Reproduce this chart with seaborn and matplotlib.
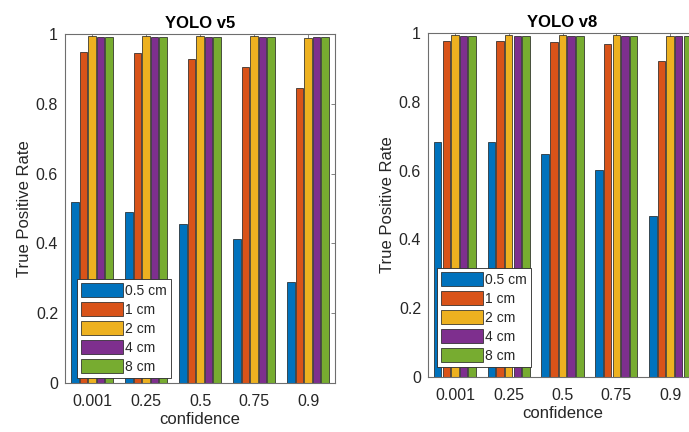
import numpy as np
import pandas as pd
import matplotlib
matplotlib.use("Agg")
import matplotlib.pyplot as plt
from matplotlib.ticker import FixedLocator, FixedFormatter
import seaborn as sns

# confidence thresholds and target sizes
confidence = ["0.001", "0.25", "0.5", "0.75", "0.9"]
sizes = ["0.5 cm", "1 cm", "2 cm", "4 cm", "8 cm"]

# true positive rate per size, one value per confidence threshold
v5_05cm = [0.519, 0.491, 0.456, 0.412, 0.290]
v5_1cm = [0.949, 0.945, 0.928, 0.906, 0.844]
v5_2cm = [0.995, 0.995, 0.995, 0.993, 0.988]
v5_4cm = [0.990, 0.990, 0.990, 0.990, 0.990]
v5_8cm = [0.990, 0.990, 0.990, 0.990, 0.990]

v8_05cm = [0.684, 0.684, 0.647, 0.602, 0.468]
v8_1cm = [0.978, 0.978, 0.975, 0.969, 0.918]
v8_2cm = [0.993, 0.993, 0.993, 0.993, 0.991]
v8_4cm = [0.990, 0.990, 0.990, 0.990, 0.990]
v8_8cm = [0.990, 0.990, 0.990, 0.990, 0.990]

colors = ["#0072BD", "#D95319", "#EDB120", "#7E2F8E", "#77AC30"]
text_color = "#262626"
axis_color = "#6e6e6e"


def long_table(series):
    rows = []
    for size, vals in zip(sizes, series):
        for c, v in zip(confidence, vals):
            rows.append({"confidence": c, "size": size, "tpr": v})
    return pd.DataFrame(rows)


df_v5 = long_table([v5_05cm, v5_1cm, v5_2cm, v5_4cm, v5_8cm])
df_v8 = long_table([v8_05cm, v8_1cm, v8_2cm, v8_4cm, v8_8cm])

sns.set_theme(style="white")
plt.rcParams["font.family"] = ["Liberation Sans", "DejaVu Sans"]
plt.rcParams["text.color"] = text_color

W, H = 689, 432
fig = plt.figure(figsize=(W / 100, H / 100), dpi=100)
fig.patch.set_facecolor("white")


def px_axes(left, top, right, bottom):
    return fig.add_axes([left / W, 1 - bottom / H, (right - left) / W, (bottom - top) / H])


def draw(ax, df, title, legend_box):
    sns.barplot(data=df, x="confidence", y="tpr", hue="size",
                order=confidence, hue_order=sizes, palette=colors,
                saturation=1, errorbar=None, width=0.8, gap=0.12,
                edgecolor="#1a1a1a", linewidth=0.5, ax=ax)
    ax.set_xlim(-0.5, 4.5)
    ax.set_ylim(0, 1)
    ax.yaxis.set_major_locator(FixedLocator([0, 0.2, 0.4, 0.6, 0.8, 1.0]))
    ax.yaxis.set_major_formatter(FixedFormatter(["0", "0.2", "0.4", "0.6", "0.8", "1"]))
    ax.tick_params(axis="both", direction="in", length=3, width=0.6,
                   color=axis_color, labelsize=11.5, labelcolor=text_color,
                   top=True, right=True)
    ax.tick_params(axis="x", pad=8)
    ax.tick_params(axis="y", pad=5)
    for s in ax.spines.values():
        s.set_visible(True)
        s.set_color(axis_color)
        s.set_linewidth(0.8)
    ax.set_title(title, fontsize=12, fontweight="bold", color="black", pad=4)
    ax.set_xlabel("confidence", fontsize=12, color=text_color, labelpad=2)
    ax.set_ylabel("True Positive Rate", fontsize=12, color=text_color, labelpad=3)
    handles, labels = ax.get_legend_handles_labels()
    if ax.get_legend() is not None:
        ax.get_legend().remove()
    leg = ax.legend(handles, labels, loc="lower left", bbox_to_anchor=legend_box,
                    fontsize=10, handlelength=3.0, handleheight=1.15,
                    handletextpad=0.15, labelspacing=0.32, borderpad=0.3,
                    borderaxespad=0, fancybox=False, framealpha=1,
                    edgecolor="#262626")
    leg.get_frame().set_linewidth(0.6)


ax1 = px_axes(65, 34, 335, 383)
draw(ax1, df_v5, "YOLO v5", (12 / 270, 5 / 349))

ax2 = px_axes(428, 33, 697, 377)
draw(ax2, df_v8, "YOLO v8", (9 / 269, 10 / 344))

fig.savefig("out.png", dpi=100, facecolor="white")
